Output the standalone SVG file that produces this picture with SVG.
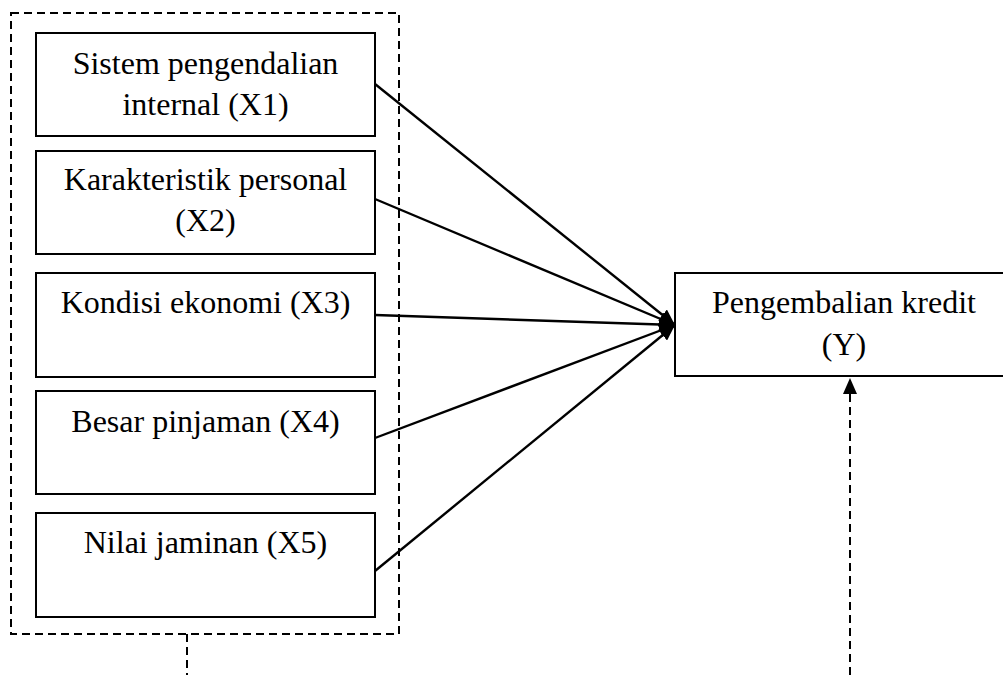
<svg xmlns="http://www.w3.org/2000/svg" width="1003" height="675" viewBox="0 0 1003 675">
<style>
.box{fill:#fff;stroke:#000;stroke-width:2}
.t{font-size:32px;fill:#000;text-anchor:middle}
.ln{stroke:#000;stroke-width:2.4;fill:none}
.dash{stroke:#000;stroke-width:2;fill:none;stroke-dasharray:8 5}
</style>
<defs>
<marker id="ah" markerUnits="userSpaceOnUse" markerWidth="18" markerHeight="14" refX="16" refY="7" orient="auto">
<path d="M0,0 L16,7 L0,14 Z" fill="#000"/>
</marker>
</defs>
<g id="group-frame">
<rect x="11" y="13" width="388" height="621" class="dash"/>
</g>
<g font-family="Liberation Serif, 'Times New Roman', serif">
<g id="x1"><rect x="36" y="33" width="339" height="103" class="box"/><text class="t" x="205.5" y="74">Sistem pengendalian</text><text class="t" x="205.5" y="115">internal (X1)</text></g>
<g id="x2"><rect x="36" y="151" width="339" height="103" class="box"/><text class="t" x="205.5" y="190">Karakteristik personal</text><text class="t" x="205.5" y="231">(X2)</text></g>
<g id="x3"><rect x="36" y="273" width="339" height="104" class="box"/><text class="t" x="205.5" y="313">Kondisi ekonomi (X3)</text></g>
<g id="x4"><rect x="36" y="391" width="339" height="103" class="box"/><text class="t" x="205.5" y="432">Besar pinjaman (X4)</text></g>
<g id="x5"><rect x="36" y="513" width="339" height="104" class="box"/><text class="t" x="205.5" y="553">Nilai jaminan (X5)</text></g>
<g id="y"><rect x="675" y="273" width="340" height="103" class="box"/><text class="t" x="844" y="313">Pengembalian kredit</text><text class="t" x="844" y="355">(Y)</text></g>
</g>
<g id="connectors">
<line x1="375" y1="84" x2="675" y2="325" class="ln" marker-end="url(#ah)"/>
<line x1="375" y1="199" x2="675" y2="325" class="ln" marker-end="url(#ah)"/>
<line x1="375" y1="315" x2="675" y2="325" class="ln" marker-end="url(#ah)"/>
<line x1="375" y1="438" x2="675" y2="325" class="ln" marker-end="url(#ah)"/>
<line x1="375" y1="571" x2="675" y2="325" class="ln" marker-end="url(#ah)"/>
<line x1="187" y1="634" x2="187" y2="675" class="dash"/>
<line x1="850" y1="675" x2="850" y2="392" class="dash"/>
<polygon points="850,378 843,394 857,394" fill="#000"/>
</g>
</svg>
